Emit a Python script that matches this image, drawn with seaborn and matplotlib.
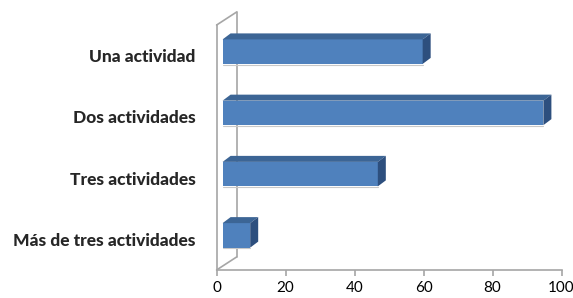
import matplotlib
matplotlib.use("Agg")
import matplotlib.pyplot as plt
import seaborn as sns
import numpy as np

categories = ["Una actividad", "Dos actividades", "Tres actividades", "Más de tres actividades"]
values = [58, 93, 45, 8]
x_ticks = [0, 20, 40, 60, 80, 100]

sns.set_style("white")
plt.rcParams['font.family'] = ['Lato', 'DejaVu Sans']

fig = plt.figure(figsize=(5.73, 2.98), dpi=100)
ax = fig.add_axes([0.378, 0.094, 0.602, 0.822])

front = "#4F81BD"
top_c = "#3C6595"
side_c = "#2D4F7E"
grey = "#A6A6A6"

sns.barplot(x=values, y=categories, orient="h", width=0.4, color=front,
            saturation=1, ax=ax)
ax.set_xlim(0, 100)
ax.set_ylim(3.5, -0.5)

# pixel -> data conversion
sx = 0.602 * 573 / 100.0
sy = 0.822 * 298 / 4.0
def off(px, py):
    return px / sx, -py / sy

fx, fy = off(6, 4)     # front face shift
dx, dy = off(8, 6)     # bar depth
for p in ax.patches:
    p.set_x(p.get_x() + fx)
    p.set_y(p.get_y() + fy)
    p.set_linewidth(0)
    p.set_zorder(5)
    x0, y0 = p.get_x(), p.get_y()
    w, h = p.get_width(), p.get_height()
    # top face
    ax.fill([x0, x0 + w, x0 + w + dx, x0 + dx], [y0, y0, y0 + dy, y0 + dy],
            color=top_c, lw=0, zorder=5)
    # right face
    ax.fill([x0 + w, x0 + w + dx, x0 + w + dx, x0 + w],
            [y0, y0 + dy, y0 + h + dy, y0 + h], color=side_c, lw=0, zorder=5)
    # faint shadow under bar
    ax.plot([x0, x0 + w], [y0 + h + 0.012, y0 + h + 0.012], color="#C8C8C8",
            lw=0.8, zorder=4)

# back wall lines
wx, wy = off(20, 13)
ax.plot([wx, wx], [3.5 + wy, -0.5 + wy], color=grey, lw=1.2, clip_on=False, zorder=1)
ax.plot([0, wx], [-0.5, -0.5 + wy], color=grey, lw=1.2, clip_on=False, zorder=1)
ax.plot([0, wx], [3.5, 3.5 + wy], color=grey, lw=1.2, clip_on=False, zorder=1)

for s in ["top", "right"]:
    ax.spines[s].set_visible(False)
for s in ["left", "bottom"]:
    ax.spines[s].set_color(grey)
    ax.spines[s].set_linewidth(1.2)

ax.set_xticks(x_ticks)
ax.set_xticklabels([str(t) for t in x_ticks], fontsize=11, color="#000000")
ax.set_yticks(range(len(categories)))
ax.set_yticklabels(categories, fontsize=12.5, fontweight="black")
ax.set_yticks(np.arange(-0.5, 4, 1), minor=True)
ax.tick_params(axis="y", which="major", length=0, pad=15)
ax.tick_params(axis="y", which="minor", length=5, color=grey, width=1.2, direction="out")
ax.tick_params(axis="x", length=4, color=grey, width=1.2, direction="out", pad=4, bottom=True)
ax.set_xlabel("")
ax.set_ylabel("")

fig.savefig("out.png", dpi=100)
